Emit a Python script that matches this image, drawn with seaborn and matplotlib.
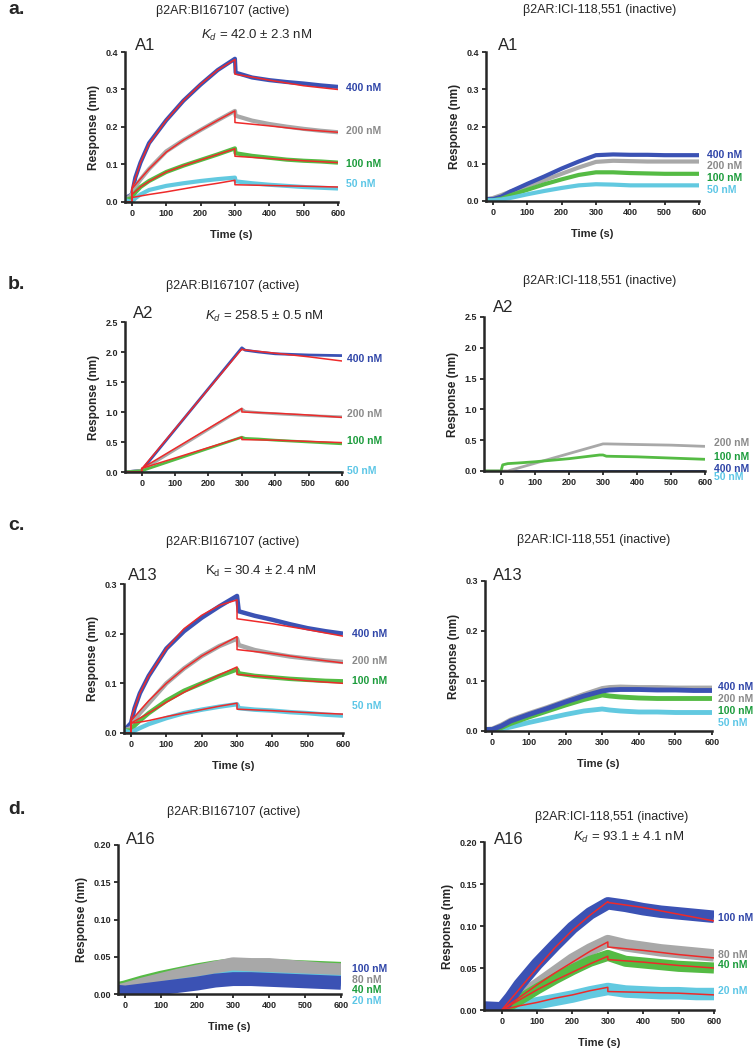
import matplotlib
matplotlib.use("Agg")
import matplotlib.pyplot as plt
import seaborn as sns

# ---- data (time in s, response in nm) ----
CONC_A = ["400 nM", "200 nM", "100 nM", "50 nM"]
CONC_D = ["100 nM", "80 nM", "40 nM", "20 nM"]

# a. A1 active
T_A1_ACT = [-20, 0, 10, 25, 50, 100, 150, 200, 250, 300, 302, 350, 400, 450, 500, 550, 600]
A1_ACT = [
    [0.01, 0.02, 0.065, 0.105, 0.157, 0.218, 0.27, 0.313, 0.352, 0.382, 0.345, 0.332, 0.325, 0.32, 0.316, 0.311, 0.307],
    [0.005, 0.02, 0.04, 0.06, 0.088, 0.135, 0.165, 0.192, 0.218, 0.243, 0.23, 0.217, 0.208, 0.201, 0.195, 0.19, 0.186],
    [0.005, 0.01, 0.025, 0.04, 0.056, 0.08, 0.097, 0.112, 0.127, 0.143, 0.13, 0.123, 0.118, 0.113, 0.11, 0.108, 0.105],
    [0.005, 0.0, 0.01, 0.02, 0.032, 0.043, 0.05, 0.056, 0.061, 0.065, 0.055, 0.05, 0.046, 0.043, 0.04, 0.038, 0.036],
]
TF_A1_ACT = [-20, 0, 0, 25, 50, 100, 150, 200, 250, 300, 300, 400, 500, 600]
A1_ACT_FIT = [
    [0, 0, 0.035, 0.105, 0.155, 0.218, 0.27, 0.314, 0.352, 0.38, 0.341, 0.325, 0.31, 0.3],
    [0, 0, 0.035, 0.062, 0.088, 0.133, 0.165, 0.192, 0.218, 0.243, 0.212, 0.203, 0.193, 0.186],
    [0, 0, 0.02, 0.04, 0.055, 0.08, 0.097, 0.112, 0.127, 0.142, 0.122, 0.116, 0.11, 0.105],
    [0, 0, 0.012, 0.016, 0.02, 0.027, 0.035, 0.043, 0.05, 0.058, 0.046, 0.044, 0.042, 0.04],
]

# a. A1 inactive
T_A1_INA = [-20, 0, 25, 50, 100, 150, 200, 250, 300, 350, 400, 450, 500, 550, 600]
A1_INA = [
    [0.005, 0.005, 0.012, 0.025, 0.046, 0.066, 0.087, 0.106, 0.123, 0.125, 0.124, 0.124, 0.123, 0.123, 0.123],
    [0.005, 0.008, 0.016, 0.025, 0.04, 0.056, 0.073, 0.09, 0.105, 0.108, 0.107, 0.106, 0.106, 0.106, 0.106],
    [0.002, 0.002, 0.006, 0.015, 0.03, 0.045, 0.058, 0.07, 0.077, 0.077, 0.075, 0.074, 0.073, 0.073, 0.073],
    [0.002, 0.002, 0.004, 0.008, 0.018, 0.027, 0.035, 0.042, 0.045, 0.044, 0.042, 0.042, 0.042, 0.042, 0.042],
]

# b. A2 active
T_A2_ACT = [-50, 0, 300, 310, 350, 400, 500, 600]
A2_ACT = [
    [0, 0.03, 2.07, 2.03, 2.0, 1.97, 1.95, 1.94],
    [0, 0.03, 1.05, 1.01, 0.99, 0.97, 0.94, 0.92],
    [0, 0.02, 0.58, 0.56, 0.55, 0.53, 0.50, 0.47],
    [0, 0, 0, 0, 0, 0, 0, 0],
]
TF_A2_ACT = [-50, 0, 0, 300, 300, 400, 500, 600]
A2_ACT_FIT = [
    [0, 0, 0.05, 2.05, 2.04, 1.98, 1.92, 1.85],
    [0, 0, 0.06, 1.06, 1.0, 0.98, 0.95, 0.91],
    [0, 0, 0.06, 0.58, 0.54, 0.53, 0.51, 0.49],
]

# b. A2 inactive
T_A2_INA = [-50, 0, 5, 20, 50, 100, 200, 290, 300, 310, 400, 500, 600]
A2_INA = [
    [0, 0, 0, 0, 0, 0, 0, 0, 0, 0, 0, 0, 0],
    [0, 0, 0, 0, 0.047, 0.126, 0.283, 0.424, 0.44, 0.44, 0.43, 0.42, 0.40],
    [0, 0, 0.1, 0.12, 0.13, 0.15, 0.2, 0.26, 0.26, 0.24, 0.23, 0.21, 0.19],
    [0, 0, 0, 0, 0, 0, 0, 0, 0, 0, 0, 0, 0],
]

# c. A13 active
T_A13_ACT = [-20, 0, 10, 25, 50, 100, 150, 200, 250, 300, 305, 350, 400, 450, 500, 550, 600]
A13_ACT = [
    [0.005, 0.02, 0.05, 0.08, 0.115, 0.17, 0.205, 0.232, 0.255, 0.276, 0.245, 0.236, 0.228, 0.219, 0.211, 0.205, 0.2],
    [0.005, 0.01, 0.025, 0.04, 0.06, 0.1, 0.13, 0.155, 0.175, 0.19, 0.177, 0.167, 0.16, 0.154, 0.15, 0.146, 0.143],
    [0.005, 0.005, 0.015, 0.025, 0.04, 0.065, 0.085, 0.1, 0.115, 0.128, 0.12, 0.115, 0.112, 0.109, 0.107, 0.105, 0.104],
    [0.005, 0.0, 0.005, 0.01, 0.018, 0.03, 0.04, 0.047, 0.053, 0.058, 0.05, 0.047, 0.045, 0.042, 0.04, 0.037, 0.035],
]
TF_A13_ACT = [-20, 0, 0, 25, 50, 100, 150, 200, 250, 300, 300, 400, 500, 600]
A13_ACT_FIT = [
    [0, 0, 0.03, 0.08, 0.115, 0.17, 0.21, 0.237, 0.257, 0.268, 0.23, 0.22, 0.208, 0.195],
    [0, 0, 0.025, 0.045, 0.065, 0.1, 0.13, 0.155, 0.175, 0.194, 0.168, 0.16, 0.15, 0.141],
    [0, 0, 0.02, 0.03, 0.04, 0.062, 0.082, 0.1, 0.117, 0.133, 0.118, 0.112, 0.105, 0.1],
    [0, 0, 0.02, 0.022, 0.025, 0.033, 0.04, 0.047, 0.054, 0.06, 0.048, 0.045, 0.041, 0.038],
]

# c. A13 inactive
T_A13_INA = [-20, 0, 25, 50, 100, 150, 200, 250, 300, 320, 350, 400, 450, 500, 550, 600]
A13_INA = [
    [0.003, 0.003, 0.01, 0.02, 0.033, 0.045, 0.058, 0.07, 0.08, 0.082, 0.083, 0.083, 0.082, 0.082, 0.081, 0.081],
    [0.003, 0.004, 0.012, 0.022, 0.035, 0.047, 0.06, 0.073, 0.085, 0.087, 0.088, 0.087, 0.087, 0.086, 0.086, 0.086],
    [0.002, 0.002, 0.007, 0.015, 0.028, 0.04, 0.052, 0.063, 0.072, 0.07, 0.068, 0.066, 0.065, 0.065, 0.065, 0.065],
    [0.002, 0.002, 0.004, 0.008, 0.017, 0.025, 0.033, 0.04, 0.044, 0.042, 0.04, 0.038, 0.038, 0.037, 0.037, 0.037],
]

# d. A16 active
T_A16_ACT = [-20, 0, 50, 100, 150, 200, 250, 300, 350, 400, 450, 500, 550, 600]
A16_ACT = [
    [0.003, 0.002, 0.005, 0.008, 0.011, 0.014, 0.018, 0.02, 0.02, 0.019, 0.018, 0.017, 0.016, 0.015],
    [0.003, 0.005, 0.012, 0.018, 0.024, 0.029, 0.034, 0.039, 0.038, 0.038, 0.036, 0.034, 0.032, 0.031],
    [0.004, 0.006, 0.013, 0.019, 0.024, 0.029, 0.033, 0.036, 0.035, 0.035, 0.034, 0.033, 0.032, 0.031],
    [0.002, 0.003, 0.006, 0.009, 0.013, 0.016, 0.02, 0.024, 0.023, 0.022, 0.021, 0.02, 0.019, 0.018],
]

# d. A16 inactive
T_A16_INA = [-50, 0, 25, 50, 100, 150, 200, 250, 300, 350, 400, 450, 500, 550, 600]
A16_INA = [
    [0.003, 0.002, 0.015, 0.03, 0.055, 0.077, 0.098, 0.115, 0.127, 0.124, 0.12, 0.117, 0.115, 0.113, 0.111],
    [0.002, 0.002, 0.008, 0.015, 0.03, 0.045, 0.06, 0.072, 0.082, 0.077, 0.074, 0.071, 0.069, 0.067, 0.065],
    [0.002, 0.002, 0.006, 0.012, 0.025, 0.037, 0.048, 0.058, 0.065, 0.058, 0.056, 0.054, 0.052, 0.051, 0.05],
    [0.002, 0.0, 0.002, 0.004, 0.008, 0.012, 0.016, 0.021, 0.025, 0.022, 0.021, 0.02, 0.02, 0.019, 0.019],
]
TF_A16_INA = [0, 50, 100, 150, 200, 250, 300, 300, 400, 500, 600]
A16_INA_FIT = [
    [0.0, 0.025, 0.05, 0.074, 0.095, 0.113, 0.129, 0.128, 0.122, 0.114, 0.106],
    [0.0, 0.015, 0.03, 0.044, 0.057, 0.07, 0.081, 0.075, 0.071, 0.066, 0.062],
    [0.0, 0.012, 0.024, 0.035, 0.045, 0.055, 0.064, 0.06, 0.057, 0.053, 0.05],
    [0.0, 0.005, 0.009, 0.014, 0.018, 0.023, 0.027, 0.022, 0.021, 0.02, 0.018],
]

# ---- style ----
sns.set_style("ticks")
plt.rcParams['font.family'] = ['Liberation Sans', 'DejaVu Sans']
plt.rcParams['mathtext.fontset'] = 'custom'
plt.rcParams['mathtext.rm'] = 'Liberation Sans'
plt.rcParams['mathtext.it'] = 'Liberation Sans:italic'

DATA_COLS = ["#3b52b4", "#a8a8a8", "#55bb44", "#62c9e0"]
LABEL_COLS = ["#2f45a8", "#8a8a8a", "#1c9c3c", "#5cc6e6"]
RED = "#ee2a2a"

W, H = 753, 1050
fig = plt.figure(figsize=(W / 100, H / 100), dpi=100)


def px_axes(x0, y0, x1, y1):
    return fig.add_axes([x0 / W, 1 - y1 / H, (x1 - x0) / W, (y1 - y0) / H])


def ftext(x, y, s, **kw):
    fig.text(x / W, 1 - y / H, s, **kw)


def draw_panel(ax, t, series, lws, order, xlim, ylim, yticks, yfmt,
               labels, label_y, label_x, label_cols=LABEL_COLS,
               t_fit=None, fits=None, xlabel=True):
    for i in order:
        sns.lineplot(x=t, y=series[i], ax=ax, color=DATA_COLS[i], linewidth=lws[i],
                     estimator=None, sort=False, solid_joinstyle='round',
                     solid_capstyle='butt')
    if fits is not None:
        for f in fits:
            sns.lineplot(x=t_fit, y=f, ax=ax, color=RED, linewidth=1.1,
                         estimator=None, sort=False)
    ax.set_xlim(*xlim)
    ax.set_ylim(*ylim)
    ax.set_xticks([0, 100, 200, 300, 400, 500, 600])
    ax.set_yticks(yticks)
    ax.set_yticklabels([yfmt.format(v) for v in yticks])
    sns.despine(ax=ax)
    for sp in ['left', 'bottom']:
        ax.spines[sp].set_linewidth(1.8)
        ax.spines[sp].set_zorder(5)
    ax.tick_params(length=3, width=1.3, labelsize=6.5, pad=2)
    for lab in ax.get_xticklabels() + ax.get_yticklabels():
        lab.set_fontweight('bold')
    ax.set_ylabel("Response (nm)", fontsize=8.5, fontweight='bold', labelpad=4)
    if xlabel:
        ax.set_xlabel("Time (s)", fontsize=8, fontweight='bold', labelpad=9)
    else:
        ax.set_xlabel("")
    for lab, ly, c in zip(labels, label_y, label_cols):
        ax.text(label_x, ly, lab, color=c, fontsize=7.5, fontweight='bold',
                va='center', ha='left', clip_on=False)


# row a
ax = px_axes(125, 52, 338, 202)
draw_panel(ax, T_A1_ACT, A1_ACT, [3, 3, 3, 3], [0, 1, 2, 3], (-20, 600), (0, 0.4),
           [0, 0.1, 0.2, 0.3, 0.4], "{:.1f}", CONC_A, [0.305, 0.19, 0.1, 0.048], 622,
           t_fit=TF_A1_ACT, fits=A1_ACT_FIT)
ax = px_axes(486, 52, 699, 201)
draw_panel(ax, T_A1_INA, A1_INA, [3, 3, 3, 3], [1, 0, 2, 3], (-20, 600), (0, 0.4),
           [0, 0.1, 0.2, 0.3, 0.4], "{:.1f}", CONC_A, [0.123, 0.095, 0.061, 0.03], 622)

# row b
ax = px_axes(125, 322, 342, 472)
draw_panel(ax, T_A2_ACT, A2_ACT, [2, 2, 2, 2], [3, 0, 1, 2], (-50, 600), (0, 2.5),
           [0, 0.5, 1.0, 1.5, 2.0, 2.5], "{:.1f}", CONC_A, [1.89, 0.96, 0.51, 0.02], 615,
           t_fit=TF_A2_ACT, fits=A2_ACT_FIT, xlabel=False)
ax = px_axes(484, 317, 705, 471)
draw_panel(ax, T_A2_INA, A2_INA, [2, 2, 2, 2], [3, 0, 1, 2], (-50, 600), (0, 2.5),
           [0, 0.5, 1.0, 1.5, 2.0, 2.5], "{:.1f}",
           [CONC_A[1], CONC_A[2], CONC_A[0], CONC_A[3]], [0.45, 0.23, 0.04, -0.1], 626,
           label_cols=[LABEL_COLS[1], LABEL_COLS[2], LABEL_COLS[0], LABEL_COLS[3]],
           xlabel=False)

# row c
ax = px_axes(124, 584, 343, 733)
draw_panel(ax, T_A13_ACT, A13_ACT, [3.2, 3.2, 3.2, 3.2], [0, 1, 2, 3], (-20, 600), (0, 0.3),
           [0, 0.1, 0.2, 0.3], "{:.1f}", CONC_A, [0.2, 0.144, 0.104, 0.055], 625,
           t_fit=TF_A13_ACT, fits=A13_ACT_FIT)
ax = px_axes(485, 581, 712, 731)
draw_panel(ax, T_A13_INA, A13_INA, [3.5, 3.5, 3.5, 3.5], [1, 3, 2, 0], (-20, 600), (0, 0.3),
           [0, 0.1, 0.2, 0.3], "{:.1f}", CONC_A, [0.087, 0.063, 0.039, 0.015], 617)

# row d
ax = px_axes(118, 845, 341, 994)
draw_panel(ax, T_A16_ACT, A16_ACT, [10, 11, 13, 8], [2, 1, 3, 0], (-20, 600), (0, 0.2),
           [0, 0.05, 0.10, 0.15, 0.20], "{:.2f}", CONC_D, [0.033, 0.019, 0.005, -0.009], 630)
ax = px_axes(484, 842, 714, 1010)
draw_panel(ax, T_A16_INA, A16_INA, [9, 9, 8, 9], [3, 1, 2, 0], (-50, 600), (0, 0.2),
           [0, 0.05, 0.10, 0.15, 0.20], "{:.2f}", CONC_D, [0.11, 0.065, 0.053, 0.023], 612,
           t_fit=TF_A16_INA, fits=A16_INA_FIT)

# titles, ids, Kd values and panel letters
ftext(8, 10, "a.", fontsize=14, fontweight='bold', va='center')
ftext(8, 285, "b.", fontsize=14, fontweight='bold', va='center')
ftext(8, 525, "c.", fontsize=14, fontweight='bold', va='center')
ftext(8, 810, "d.", fontsize=14, fontweight='bold', va='center')

for x, y in [(223, 11), (233, 286), (233, 542), (234, 812)]:
    ftext(x, y, "β2AR:BI167107 (active)", fontsize=9, ha='center', va='center')
for x, y in [(600, 10), (600, 281), (594, 540), (612, 817)]:
    ftext(x, y, "β2AR:ICI-118,551 (inactive)", fontsize=9, ha='center', va='center')

for x, y, s in [(135, 45, "A1"), (498, 45, "A1"), (133, 313, "A2"), (493, 307, "A2"),
                (128, 575, "A13"), (493, 575, "A13"), (126, 840, "A16"), (494, 839, "A16")]:
    ftext(x, y, s, fontsize=12, ha='left', va='center')

ftext(257, 35, "$K_d$ = 42.0 ± 2.3 nM", fontsize=9.5, ha='center', va='center')
ftext(264, 316, "$K_d$ = 258.5 ± 0.5 nM", fontsize=9.5, ha='center', va='center')
ftext(261, 571, "K$_\\mathrm{d}$ = 30.4 ± 2.4 nM", fontsize=9.5, ha='center', va='center')
ftext(629, 837, "$K_d$ = 93.1 ± 4.1 nM", fontsize=9.5, ha='center', va='center')

fig.savefig("out.png", dpi=100)
